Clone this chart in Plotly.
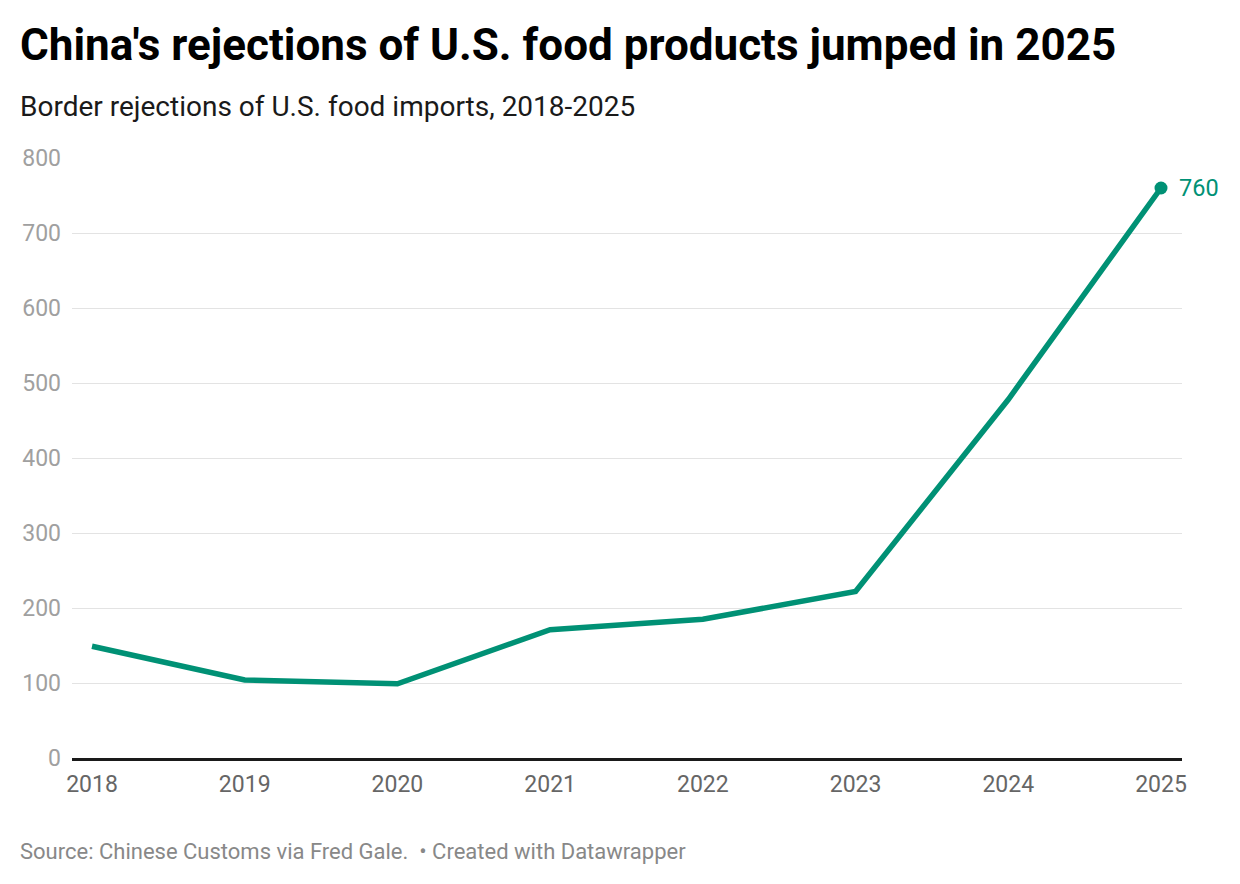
import plotly.graph_objects as go

years = [2018, 2019, 2020, 2021, 2022, 2023, 2024, 2025]
rejections = [149, 104, 99, 171, 185, 222, 478, 760]
y_ticks = [0, 100, 200, 300, 400, 500, 600, 700, 800]

title = "China's rejections of U.S. food products jumped in 2025"
subtitle = "Border rejections of U.S. food imports, 2018-2025"
source = "Source: Chinese Customs via Fred Gale.  \u2022 Created with Datawrapper"

teal = "#009175"

L, R, T, B = 72, 58, 158, 126
W, H = 1240, 884
plot_w = W - L - R
plot_h = H - T - B

fig = go.Figure()
fig.add_trace(go.Scatter(
    x=years, y=rejections, mode="lines",
    line=dict(color=teal, width=5.5), hoverinfo="skip", showlegend=False,
))
fig.add_trace(go.Scatter(
    x=[years[-1]], y=[rejections[-1]], mode="markers",
    marker=dict(color=teal, size=13),
    hoverinfo="skip", showlegend=False, cliponaxis=False,
))


def px(x):
    return (x - L) / plot_w


def py(y):
    return (H - B - y) / plot_h


fig.update_layout(
    width=W, height=H,
    margin=dict(l=L, r=R, t=T, b=B),
    paper_bgcolor="white", plot_bgcolor="white",
    font=dict(family="Roboto", color="#333"),
    xaxis=dict(
        range=[2017.869, 2025.1375],
        tickmode="array", tickvals=years, ticktext=[str(y) for y in years],
        tickfont=dict(family="Roboto", size=23, color="#666"),
        showgrid=False, zeroline=False, showline=True,
        linecolor="#1a1a1a", linewidth=2.5, ticks="", ticklabelstandoff=4,
        fixedrange=True,
    ),
    yaxis=dict(
        range=[0, 800],
        tickmode="array", tickvals=y_ticks,
        tickfont=dict(family="Roboto", size=23, color="#a0a0a0"),
        showgrid=True, gridcolor="#e3e3e3", gridwidth=1.3,
        zeroline=False, showline=False, ticks="", ticklabelstandoff=10,
        fixedrange=True,
    ),
    annotations=[
        dict(text=f"<b>{title}</b>", x=px(18), y=py(45), xref="paper", yref="paper",
             showarrow=False, xanchor="left", yanchor="middle",
             font=dict(family="Roboto", size=44, color="#000")),
        dict(text=subtitle, x=px(18), y=py(106), xref="paper", yref="paper",
             xanchor="left", yanchor="middle", showarrow=False,
             font=dict(family="Roboto", size=28, color="#1a1a1a")),
        dict(text=source, x=px(18), y=py(851), xref="paper", yref="paper",
             xanchor="left", yanchor="middle", showarrow=False,
             font=dict(family="Roboto", size=22, color="#888")),
        dict(text=f"{rejections[-1]}", x=years[-1], y=rejections[-1], xref="x", yref="y",
             xanchor="left", yanchor="middle", showarrow=False, xshift=16,
             font=dict(family="Roboto", size=23.5, color=teal)),
    ],
)

fig.write_html("out.html")
